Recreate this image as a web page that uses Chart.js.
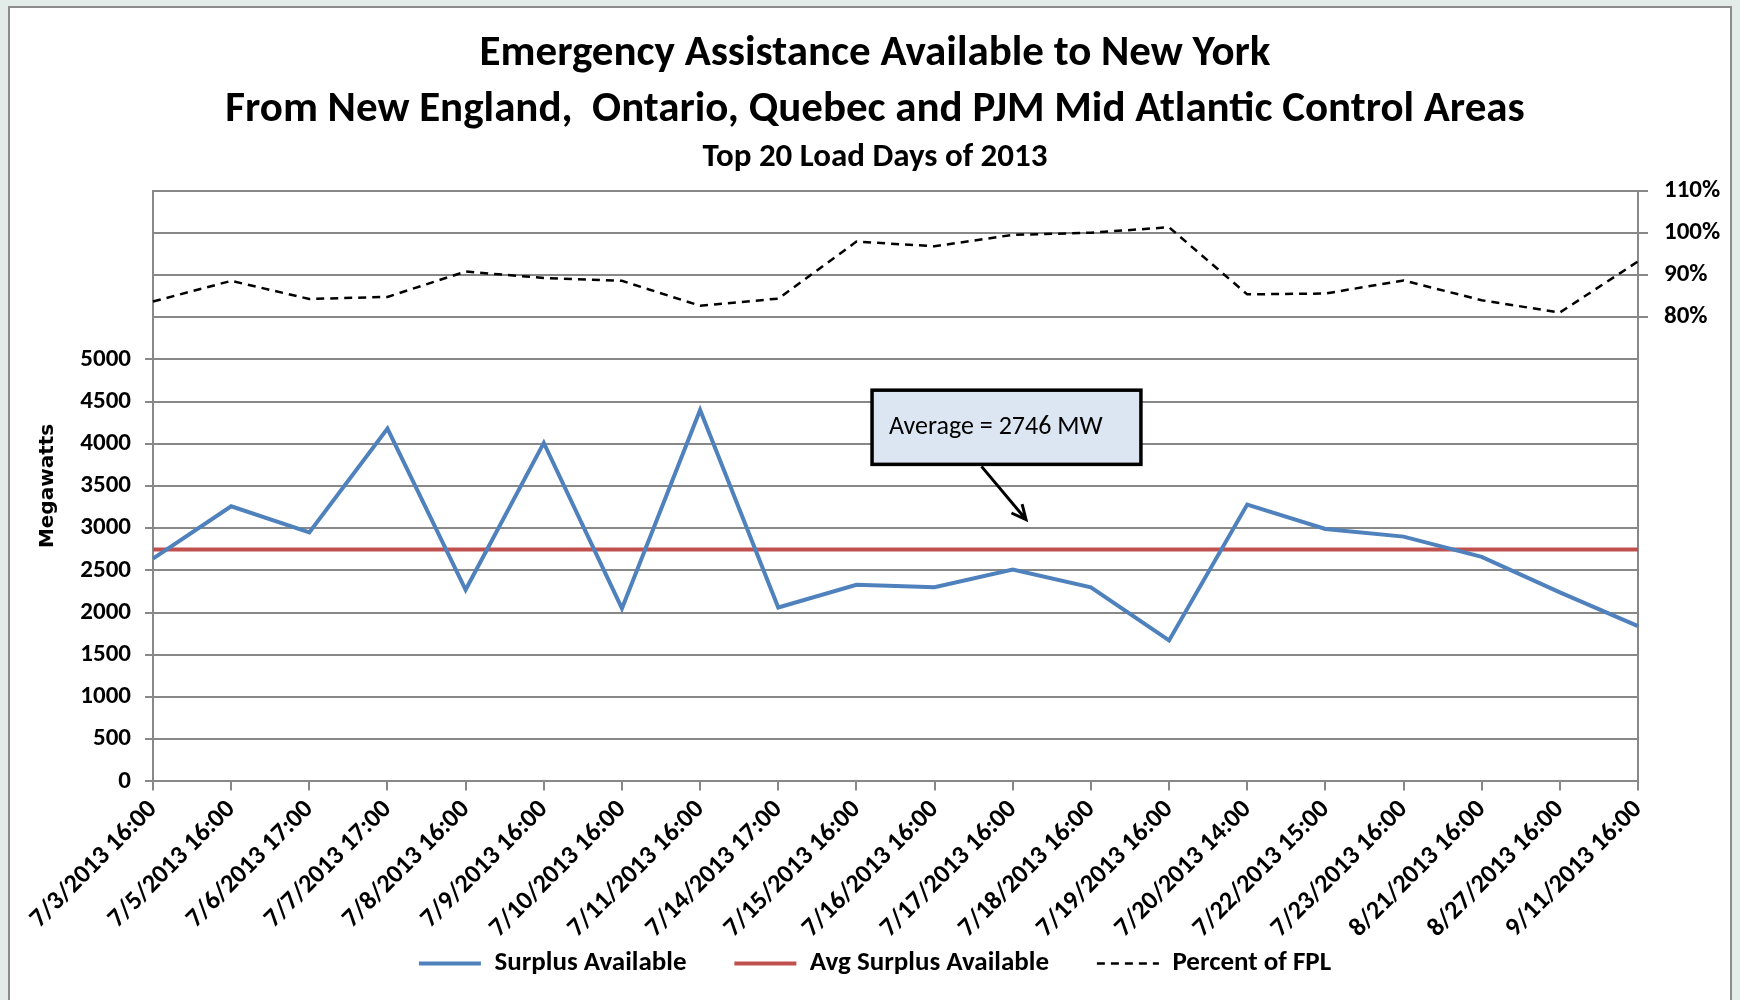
<!DOCTYPE html>
<html>
<head>
<meta charset="utf-8">
<script src="https://cdn.jsdelivr.net/npm/chart.js@4.4.1/dist/chart.umd.min.js"></script>
<style>
  html, body { margin: 0; padding: 0; background: #e3ece8; }
  #panel { position: absolute; left: 8px; top: 6px; width: 1720px; height: 1000px; background: #fff; border: 2px solid #8c8c8c; }
  #wrap { position: absolute; left: 0; top: 0; width: 1740px; height: 1000px; }
</style>
</head>
<body>
<div id="panel"></div>
<div id="wrap"><canvas id="chart"></canvas></div>
<script>
// Top 20 load days of 2013
var labels = ["7/3/2013 16:00", "7/5/2013 16:00", "7/6/2013 17:00", "7/7/2013 17:00", "7/8/2013 16:00",
    "7/9/2013 16:00", "7/10/2013 16:00", "7/11/2013 16:00", "7/14/2013 17:00", "7/15/2013 16:00",
    "7/16/2013 16:00", "7/17/2013 16:00", "7/18/2013 16:00", "7/19/2013 16:00", "7/20/2013 14:00",
    "7/22/2013 15:00", "7/23/2013 16:00", "8/21/2013 16:00", "8/27/2013 16:00", "9/11/2013 16:00"];
var surplus = [2640, 3260, 2950, 4180, 2270, 4010, 2050, 4400, 2060, 2330,
    2300, 2510, 2300, 1670, 3280, 2990, 2900, 2660, 2240, 1840];
var avgSurplus = [2746, 2746, 2746, 2746, 2746, 2746, 2746, 2746, 2746, 2746,
    2746, 2746, 2746, 2746, 2746, 2746, 2746, 2746, 2746, 2746];
var percentFPL = [83.7, 88.6, 84.3, 84.8, 90.8, 89.3, 88.6, 82.7, 84.4, 97.9,
    96.8, 99.5, 100.0, 101.3, 85.4, 85.6, 88.7, 84.0, 81.1, 93.2];

var FONT = "Carlito, Calibri, Lato, sans-serif";
var GRID = '#888888';
var HIDE = 'rgba(0,0,0,0)';

// callout box "Average = 2746 MW" with arrow, placed in data units
var callout = {
    id: 'callout',
    afterDatasetsDraw: function(chart) {
        var x = chart.scales.x, y = chart.scales.y, ctx = chart.ctx;
        var l = x.getPixelForValue(9.2), r = x.getPixelForValue(12.64);
        var t = y.getPixelForValue(4635), b = y.getPixelForValue(3756);
        ctx.save();
        ctx.fillStyle = '#dce6f2';
        ctx.strokeStyle = '#000';
        ctx.lineWidth = 3.5;
        ctx.fillRect(l, t, r - l, b - t);
        ctx.strokeRect(l, t, r - l, b - t);
        ctx.fillStyle = '#000';
        ctx.font = '26px ' + FONT;
        ctx.textBaseline = 'middle';
        ctx.fillText('Average = 2746 MW', l + 17, (t + b) / 2);
        // arrow
        var x0 = x.getPixelForValue(10.6), y0 = y.getPixelForValue(3732);
        var x1 = x.getPixelForValue(11.17), y1 = y.getPixelForValue(3102);
        ctx.lineWidth = 3;
        ctx.beginPath();
        ctx.moveTo(x0, y0);
        ctx.lineTo(x1, y1);
        var a = Math.atan2(y1 - y0, x1 - x0);
        ctx.moveTo(x1 - 16 * Math.cos(a - 0.45), y1 - 16 * Math.sin(a - 0.45));
        ctx.lineTo(x1, y1);
        ctx.lineTo(x1 - 16 * Math.cos(a + 0.45), y1 - 16 * Math.sin(a + 0.45));
        ctx.stroke();
        ctx.restore();
    }
};

var data = {
    labels: labels,
    datasets: [
        {
            label: "Surplus Available",
            data: surplus,
            borderColor: '#4f81bd',
            backgroundColor: '#4f81bd',
            borderWidth: 4,
            pointRadius: 0,
            pointStyle: 'line',
            yAxisID: 'y'
        },
        {
            label: "Avg Surplus Available",
            data: avgSurplus,
            borderColor: '#c0504d',
            backgroundColor: '#c0504d',
            borderWidth: 4,
            pointRadius: 0,
            pointStyle: 'line',
            yAxisID: 'y'
        },
        {
            label: "Percent of FPL",
            data: percentFPL,
            borderColor: '#000',
            backgroundColor: '#000',
            borderWidth: 2.5,
            borderDash: [8, 6],
            pointRadius: 0,
            pointStyle: 'line',
            yAxisID: 'y1'
        }
    ]
};

var options = {
    responsive: true,
    maintainAspectRatio: false,
    animation: false,
    layout: { padding: { left: 30, right: 20, top: 0, bottom: 13 } },
    plugins: {
        tooltip: { enabled: false },
        title: {
            display: true,
            text: ["Emergency Assistance Available to New York",
                   "From New England,  Ontario, Quebec and PJM Mid Atlantic Control Areas"],
            font: { family: FONT, size: 43, weight: 'bold', lineHeight: 1.29 },
            color: '#000',
            padding: { top: 27, bottom: 0 }
        },
        subtitle: {
            display: true,
            text: "Top 20 Load Days of 2013",
            font: { family: FONT, size: 33, weight: 'bold', lineHeight: 1.2 },
            color: '#000',
            padding: { top: 0, bottom: 13 }
        },
        legend: {
            position: 'bottom',
            labels: {
                usePointStyle: true,
                pointStyleWidth: 62,
                font: { family: FONT, size: 27, weight: 'bold' },
                color: '#000',
                padding: 2,
                // dashed sample for FPL, wider gaps between entries
                generateLabels: function(chart) {
                    var items = Chart.defaults.plugins.legend.labels.generateLabels(chart);
                    items.forEach(function(it, i) {
                        var ds = chart.data.datasets[it.datasetIndex];
                        it.lineDash = ds.borderDash || [];
                        it.lineWidth = ds.borderWidth;
                        if (i < items.length - 1) it.text = it.text + '\u2003\u2002\u2009';
                    });
                    return items;
                }
            }
        }
    },
    scales: {
        x: {
            offset: false,
            grid: { drawOnChartArea: false, tickLength: 9, color: GRID, lineWidth: 2 },
            border: { color: GRID, width: 2 },
            ticks: { maxRotation: 45, minRotation: 45, autoSkip: false, padding: 4,
                     font: { family: FONT, size: 26, weight: 'bold' }, color: '#000' }
        },
        y: {
            position: 'left',
            min: 0,
            max: 7000,
            ticks: {
                stepSize: 500,
                padding: 14,
                font: { family: FONT, size: 25, weight: 'bold' },
                color: '#000',
                callback: function(v) { return v <= 5000 ? v : ''; }
            },
            grid: {
                color: GRID, lineWidth: 2, tickLength: 8,
                tickColor: function(c) { return c.tick && c.tick.value <= 5000 ? GRID : HIDE; }
            },
            border: { color: GRID, width: 2 },
            title: {
                display: true, text: 'Megawatts', color: '#000',
                font: { family: 'DejaVu Sans', size: 20, weight: 'bold' },
                padding: { top: 6, bottom: 0 }
            },
            afterFit: function(s) { s.width = 123; }
        },
        y1: {
            position: 'right',
            min: -30,
            max: 110,
            ticks: {
                stepSize: 10,
                padding: 16,
                font: { family: FONT, size: 25, weight: 'bold' },
                color: '#000',
                callback: function(v) { return v >= 80 ? v + '%' : ''; }
            },
            grid: {
                drawOnChartArea: false, lineWidth: 2, tickLength: 10,
                color: GRID,
                tickColor: function(c) { return c.tick && c.tick.value >= 80 ? GRID : HIDE; }
            },
            border: { color: GRID, width: 2 },
            afterFit: function(s) { s.width = 82; }
        }
    }
};

var ctx = document.getElementById("chart").getContext("2d");
new Chart(ctx, { type: 'line', data: data, options: options, plugins: [callout] });
</script>
</body>
</html>
